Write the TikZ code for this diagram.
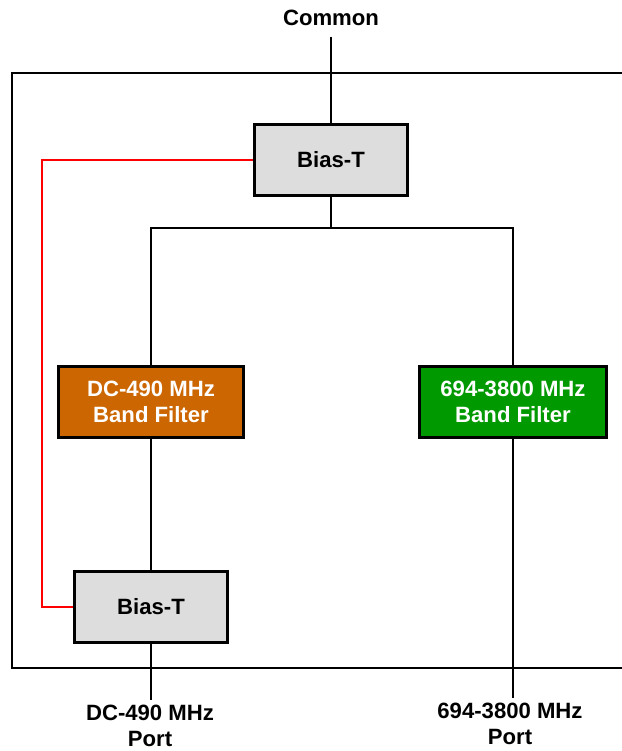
\documentclass[tikz,border=0pt]{standalone}
\usepackage{fontspec}
\setmainfont{Liberation Sans}
\usetikzlibrary{positioning,calc}
\definecolor{filterorange}{RGB}{204,102,0}
\definecolor{filtergreen}{RGB}{0,153,0}
\definecolor{biasgray}{RGB}{221,221,221}

\begin{document}
\begin{tikzpicture}[
        x=0.75pt, y=-0.75pt,
        line width=2.1pt,
        box/.style={rectangle, draw, fill=#1, text=black,
            minimum width=115pt,
            minimum height=53pt,
            align=center, font=\fontsize{16.6}{20}\selectfont\bfseries},
        filter/.style={box=#1, text=white, minimum width=139pt},
        lbl/.style={align=center, font=\fontsize{16.6}{19}\selectfont\bfseries},
        dcline/.style={red, line width=1.8pt}
    ]
        \useasboundingbox (0,0) rectangle (622,751);

        % enclosure, cut off on the right
        \draw[line width=2.2pt] (622,73) -| (12,668) -- (622,668);

        \node[lbl] (common) at (331,18) {Common};
        \node[box=biasgray] (biasTop) at (331,160) {Bias-T};
        \coordinate (split) at (331,228);

        \node[filter=filterorange] (dcFilter) at (151,402) {DC-490 MHz\\Band Filter};
        \node[filter=filtergreen, minimum width=140pt] (hiFilter) at (513,402) {694-3800 MHz\\Band Filter};
        \node[box=biasgray] (biasLow) at (151,607) {Bias-T};

        \node[lbl] (dcPort) at (150,726) {DC-490 MHz\\Port};
        \node[lbl] (hiPort) at (510,724) {694-3800 MHz\\Port};

        \draw (biasTop.north |- common.south) ++(0,5) -- (biasTop.north);
        \draw (biasTop) -- (split);
        \draw (dcFilter.north) |- (split) -| (hiFilter.north);
        \draw (dcFilter) -- (biasLow);
        \draw (biasLow.south) -- (biasLow.south |- dcPort.north);
        \draw (hiFilter.south) -- (hiFilter.south |- hiPort.north);

        % DC path around the low band filter
        \draw[dcline] (biasTop.west) -- ++(-211,0) |- (biasLow.west);
    \end{tikzpicture}
\end{document}
